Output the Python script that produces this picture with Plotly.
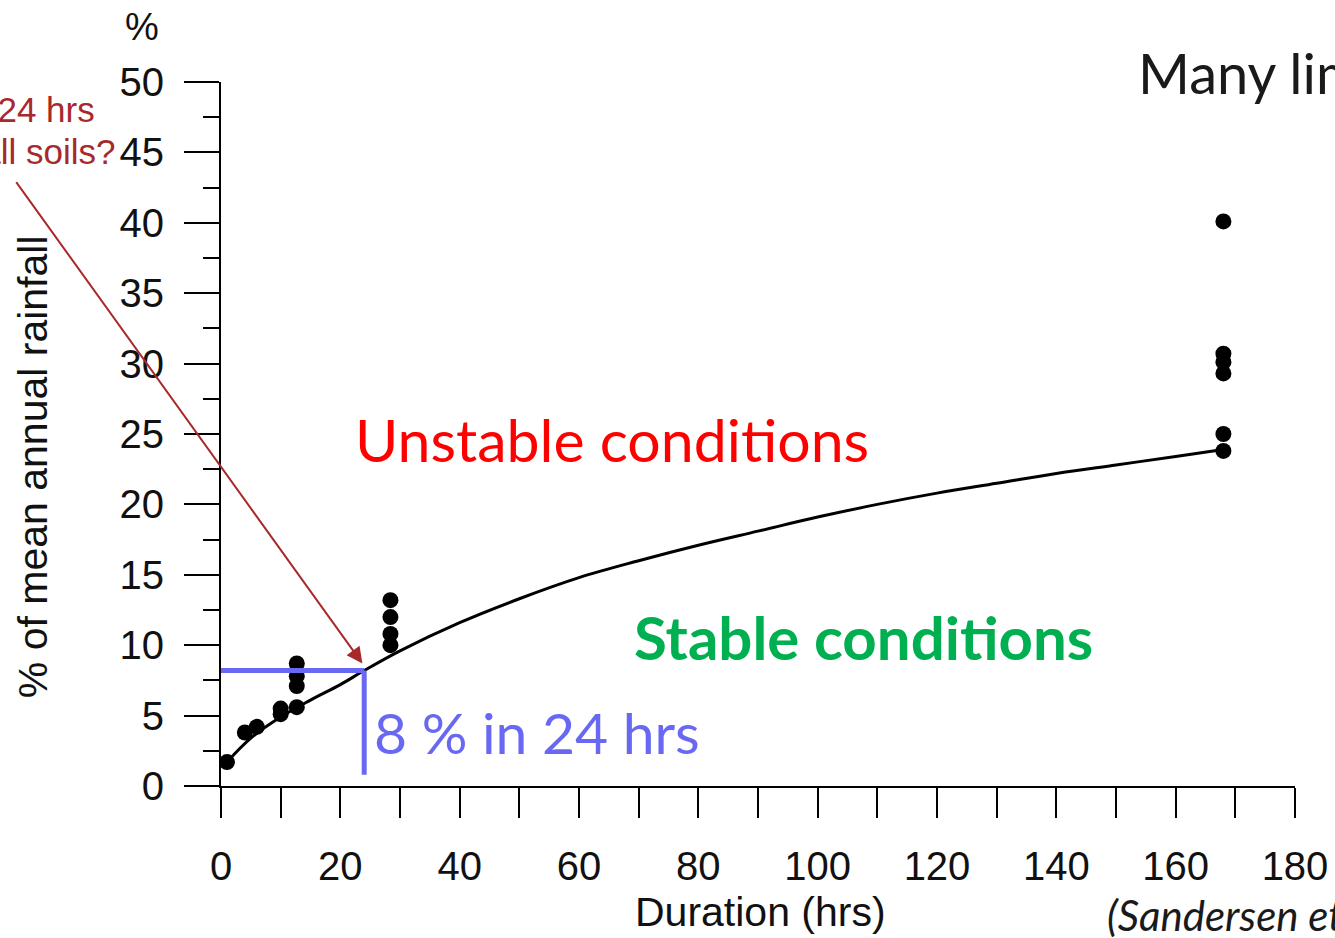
import plotly.graph_objects as go

# Observed data points (duration in hrs, % of mean annual rainfall)
obs_hours = [1, 4, 6, 10, 10, 12.7, 12.7, 12.7, 12.7, 28.4, 28.4, 28.4, 28.4,
             168, 168, 168, 168, 168, 168]
obs_pct = [1.7, 3.8, 4.2, 5.5, 5.1, 5.6, 7.1, 7.8, 8.7, 10.0, 10.8, 12.0, 13.2,
           40.1, 30.7, 30.1, 29.3, 25.0, 23.8]

# Threshold curve
curve_hours = [1, 5, 10, 15, 20, 24, 30, 40, 50, 60, 70, 80, 90, 100, 110,
               120, 130, 140, 150, 160, 168]
curve_pct = [1.7, 3.4, 4.9, 6.1, 7.2, 8.2, 9.6, 11.6, 13.3, 14.8, 16.0, 17.1,
             18.1, 19.1, 20.0, 20.8, 21.5, 22.2, 22.8, 23.4, 23.9]

threshold_hours = 24
threshold_pct = 8.2

x_ticks = [0, 20, 40, 60, 80, 100, 120, 140, 160, 180]
y_ticks = [0, 5, 10, 15, 20, 25, 30, 35, 40, 45, 50]

fig = go.Figure()
fig.add_trace(go.Scatter(x=curve_hours, y=curve_pct, mode="lines",
                         line=dict(color="black", width=3, shape="spline"),
                         hoverinfo="skip", cliponaxis=False))
fig.add_trace(go.Scatter(x=obs_hours, y=obs_pct, mode="markers",
                         marker=dict(color="black", size=16),
                         cliponaxis=False))

blue = "#6868F2"
fig.add_shape(type="line", x0=0, x1=threshold_hours, y0=threshold_pct, y1=threshold_pct,
              line=dict(color=blue, width=5), xref="x", yref="y")
fig.add_shape(type="line", x0=threshold_hours, x1=threshold_hours, y0=threshold_pct, y1=0.8,
              line=dict(color=blue, width=5), xref="x", yref="y")

red_dark = "#A8292C"
# arrow
fig.add_annotation(x=threshold_hours - 0.3, y=threshold_pct + 0.5, xref="x", yref="y",
                   ax=-34.5, ay=43.0, axref="x", ayref="y", text="",
                   showarrow=True, arrowhead=2, arrowsize=1.6, arrowwidth=2,
                   arrowcolor=red_dark)

def ann(text, x, y, size, color, family, xanchor="left", yanchor="middle",
        angle=0, bold=False, italic=False):
    fig.add_annotation(text=text, x=x, y=y, xref="paper", yref="paper",
                       xanchor=xanchor, yanchor=yanchor, showarrow=False,
                       textangle=angle,
                       font=dict(size=size, color=color, family=family,
                                 weight="bold" if bold else "normal",
                                 style="italic" if italic else "normal"))

arial = "Liberation Sans, Arial, sans-serif"
cal = "Lato, sans-serif"

ann("% of mean annual rainfall", -0.175, 0.453, 41, "#111", arial, xanchor="center", angle=-90)
ann("%", -0.0736, 1.078, 38, "#111", arial, xanchor="center")
ann("Duration (hrs)", 0.502, -0.179, 41, "#111", arial, xanchor="center")
ann("Unstable conditions", 0.1229, 0.4915, 59, "#FF0000", cal)
ann("Stable conditions", 0.3827, 0.2116, 60, "#00B050", cal, bold=True)
ann("8 % in 24 hrs", 0.1406, 0.0767, 57, blue, cal)
ann("Many limitations", 0.852, 1.014, 56, "#1a1a1a", cal)
ann("(Sandersen et al.)", 0.823, -0.183, 42, "#1a1a1a", cal, italic=True)
ann("Critical rainfall in 24 hrs", -0.1155, 0.9616, 35, red_dark, arial, xanchor="right")
ann("valid for all soils?", -0.0959, 0.9006, 35, red_dark, arial, xanchor="right")

fig.update_layout(
    width=1335, height=938,
    margin=dict(l=221, r=40, t=82, b=152, autoexpand=False),
    paper_bgcolor="white", plot_bgcolor="white",
    showlegend=False,
    xaxis=dict(range=[0, 180], tickvals=x_ticks, ticks="outside", ticklen=30,
               tickwidth=2, tickcolor="black", showline=True, linecolor="black",
               linewidth=2, showgrid=False, zeroline=False, automargin=False,
               tickfont=dict(size=40, color="#111", family=arial),
               ticklabelstandoff=14,
               minor=dict(dtick=10, ticks="outside", ticklen=30, tickwidth=2,
                          tickcolor="black", showgrid=False)),
    yaxis=dict(range=[0, 50], tickvals=y_ticks, ticks="outside", ticklen=35,
               tickwidth=2, tickcolor="black", showline=True, linecolor="black",
               linewidth=2, showgrid=False, zeroline=False, automargin=False,
               tickfont=dict(size=40, color="#111", family=arial),
               ticklabelstandoff=12,
               minor=dict(dtick=2.5, ticks="outside", ticklen=16, tickwidth=2,
                          tickcolor="black", showgrid=False)),
)

fig.write_html("out.html")
